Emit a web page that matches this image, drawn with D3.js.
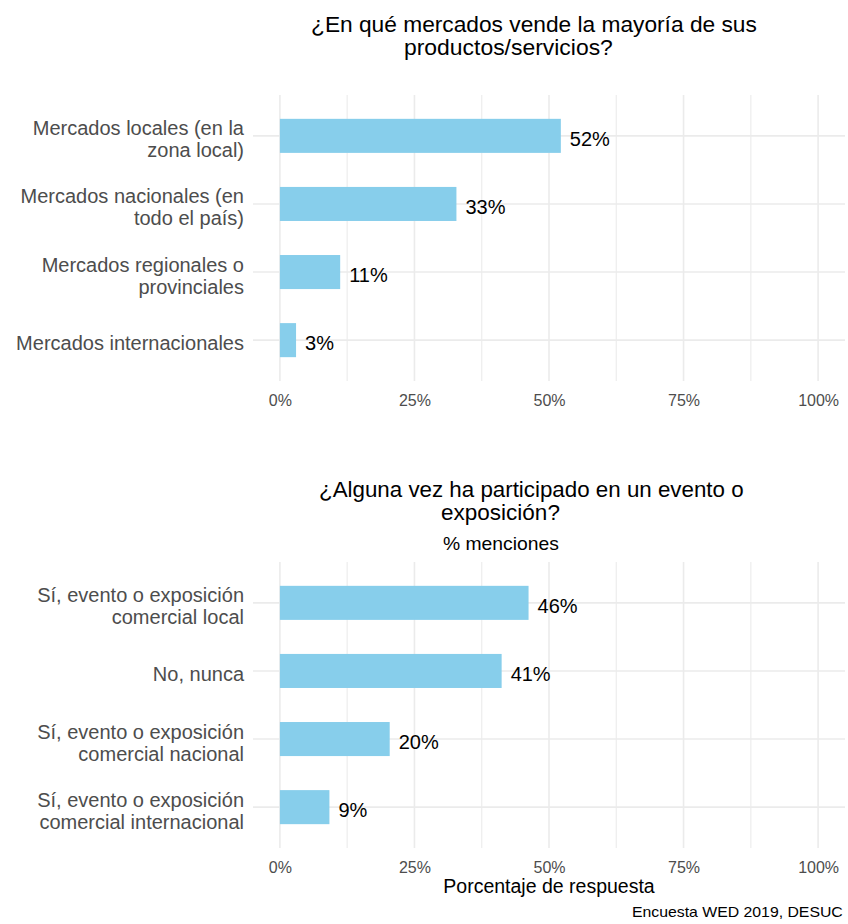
<!DOCTYPE html>
<html>
<head>
<meta charset="utf-8">
<script src="https://cdn.jsdelivr.net/npm/d3@7"></script>
<style>
  body { margin: 0; background: #fff; }
  text { font-family: "Liberation Sans", Arial, sans-serif; }
</style>
</head>
<body>
<div id="chart"></div>
<script>
// values (share of answers)
var mercadosCategorias = ["Mercados locales (en la\nzona local)", "Mercados nacionales (en\ntodo el país)",
    "Mercados regionales o\nprovinciales", "Mercados internacionales"];
var mercadosValores = [0.522, 0.328, 0.112, 0.030];

var eventoCategorias = ["Sí, evento o exposición\ncomercial local", "No, nunca",
    "Sí, evento o exposición\ncomercial nacional", "Sí, evento o exposición\ncomercial internacional"];
var eventoValores = [0.462, 0.412, 0.204, 0.092];

var xTicks = [0, 0.25, 0.5, 0.75, 1];
var xMinorTicks = [0.125, 0.375, 0.625, 0.875];

var mercadosTitulo = ["¿En qué mercados vende la mayoría de sus", "productos/servicios?"];
var eventoTitulo = ["¿Alguna vez ha participado en un evento o", "exposición?"];
var eventoSubtitulo = "% menciones";
var xTitulo = "Porcentaje de respuesta";
var caption = "Encuesta WED 2019, DESUC";

var width = 848, height = 924;

var svg = d3.select("#chart")
    .append("svg")
    .attr("width", width)
    .attr("height", height)
    .style("display", "block");

// shared x scale, ggplot-like 5% expansion on both sides
var x = d3.scaleLinear()
    .domain([-0.05, 1.05])
    .range([253, 845]);

var fmt = d3.format(".0%");

function drawPanel(cats, vals, top, bottom) {
    var y = d3.scalePoint()
        .domain(cats)
        .range([top, bottom])
        .padding(0.6);
    var g = svg.append("g");

    // grid
    g.selectAll(".minor")
        .data(xMinorTicks)
        .enter()
        .append("line")
        .attr("x1", d => x(d)).attr("x2", d => x(d))
        .attr("y1", top).attr("y2", bottom)
        .style("stroke", "#ededed")
        .style("stroke-width", 1.2);

    g.selectAll(".major")
        .data(xTicks)
        .enter()
        .append("line")
        .attr("x1", d => x(d)).attr("x2", d => x(d))
        .attr("y1", top).attr("y2", bottom)
        .style("stroke", "#ebebeb")
        .style("stroke-width", 1.6);

    g.selectAll(".hgrid")
        .data(cats)
        .enter()
        .append("line")
        .attr("x1", x.range()[0]).attr("x2", x.range()[1])
        .attr("y1", d => y(d)).attr("y2", d => y(d))
        .style("stroke", "#ebebeb")
        .style("stroke-width", 1.6);

    // bars
    g.selectAll("rect")
        .data(cats)
        .enter()
        .append("rect")
        .attr("x", x(0))
        .attr("y", d => y(d) - y.step() * 0.25)
        .attr("width", (d, i) => x(vals[i]) - x(0))
        .attr("height", y.step() * 0.5)
        .style("fill", "#87ceeb");

    // value labels
    g.selectAll(".val")
        .data(cats)
        .enter()
        .append("text")
        .attr("x", (d, i) => x(vals[i]) + 9)
        .attr("y", d => y(d) + 10)
        .attr("font-size", "20px")
        .style("fill", "#000")
        .text((d, i) => Math.round(vals[i] * 100) + "%");

    // category labels, wrapped lines
    cats.forEach(function (c) {
        var lines = c.split("\n");
        var t = g.append("text")
            .attr("text-anchor", "end")
            .attr("font-size", "20px")
            .style("fill", "#4d4d4d");
        lines.forEach(function (l, i) {
            t.append("tspan")
                .attr("x", 244)
                .attr("y", y(c) + 10 - (lines.length - 1) * 10.5 + i * 22)
                .text(l);
        });
    });

    // x axis
    var ax = g.append("g")
        .attr("transform", "translate(0," + bottom + ")")
        .call(d3.axisBottom(x).tickValues(xTicks).tickFormat(fmt).tickSize(0).tickPadding(14));
    ax.select(".domain").remove();
    ax.selectAll("text")
        .attr("font-size", "16px")
        .attr("font-family", "Liberation Sans, Arial, sans-serif")
        .style("fill", "#4d4d4d");
}

// text fitted to a measured width: left edge, baseline, width
function fitText(str, x0, y0, w, size) {
    var t = svg.append("text")
        .attr("x", 0)
        .attr("y", 0)
        .attr("font-size", size)
        .style("fill", "#000")
        .text(str);
    var natural = t.node().getComputedTextLength();
    t.attr("transform", "translate(" + x0 + "," + y0 + ") scale(" + (w / natural) + ",1)");
}

fitText(mercadosTitulo[0], 311, 32, 446, "22px");
fitText(mercadosTitulo[1], 404, 55, 209, "22px");
drawPanel(mercadosCategorias, mercadosValores, 95, 381);

fitText(eventoTitulo[0], 319, 497, 425, "22px");
fitText(eventoTitulo[1], 441, 520, 119, "22px");
fitText(eventoSubtitulo, 443, 550, 116, "18px");
drawPanel(eventoCategorias, eventoValores, 562, 848);

// axis title and caption
svg.append("text")
    .attr("text-anchor", "middle")
    .attr("x", x(0.5))
    .attr("y", 893)
    .attr("font-size", "19.5px")
    .style("fill", "#000")
    .text(xTitulo);

fitText(caption, 632, 917, 211, "14.5px");
</script>
</body>
</html>
